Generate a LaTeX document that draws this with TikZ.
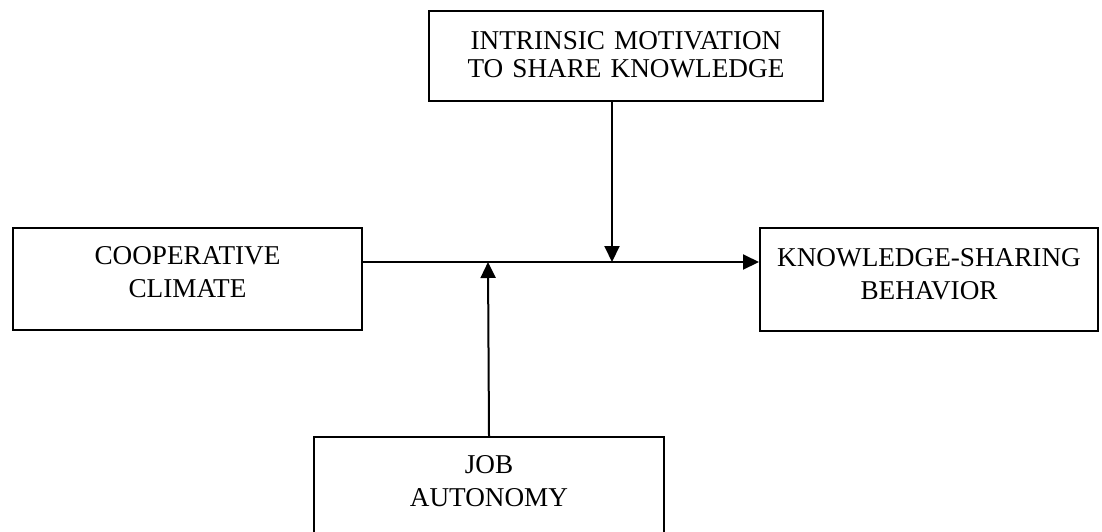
\documentclass[tikz,border=0pt]{standalone}
\usepackage{fontspec}
\setmainfont{Liberation Serif}
\usetikzlibrary{arrows.meta}

\begin{document}
\begin{tikzpicture}[>={Triangle[length=8pt,width=7.5pt]}, x=0.5pt, y=-0.5pt,
    line width=1pt, font=\fontsize{13.6pt}{16.5pt}\selectfont]
  \tikzset{
    box/.style={
      draw=black,
      anchor=north west,
      inner xsep=0pt,
      inner ysep=0pt,
      align=center}}

  \useasboundingbox (0,0) rectangle (1102,531);

  \node[box, text width=197pt, text height=19pt, text depth=26pt,
    font=\fontsize{13.6pt}{14pt}\selectfont] (motiv) at (428,10)
    {INTRINSIC MOTIVATION\\TO SHARE KNOWLEDGE};
  \node[box, text width=174.5pt, text height=18pt, text depth=33pt] (coop) at (12,227)
    {COOPERATIVE\\CLIMATE};
  \node[box, text width=169pt, text height=19pt, text depth=32.5pt] (ksb) at (759,227)
    {KNOWLEDGE-SHARING\\BEHAVIOR};
  \node[box, text width=175pt, text height=18pt, text depth=32pt] (job) at (313,436)
    {JOB\\AUTONOMY};

  % moderators meet the main path here
  \coordinate (jc) at (488,262);
  \coordinate (jt) at (612,262);

  \draw[->] (coop.east |- jc) -- (ksb.west |- jc);
  \draw[->] (motiv.south -| jt) -- (jt);
  \draw[->] (job.north) -- (jc);

\end{tikzpicture}
\end{document}
